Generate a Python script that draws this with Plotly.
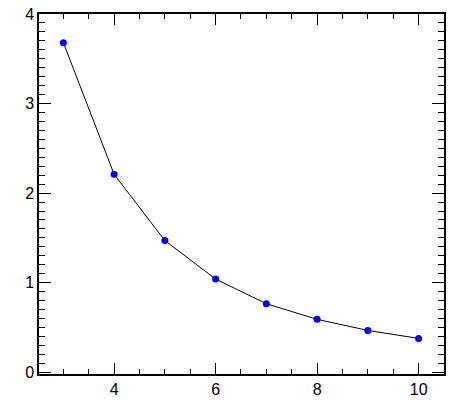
import plotly.graph_objects as go

x_vals = [3, 4, 5, 6, 7, 8, 9, 10]
y_vals = [3.68, 2.21, 1.47, 1.04, 0.765, 0.59, 0.467, 0.377]

x_ticks = [4, 6, 8, 10]
y_ticks = [0, 1, 2, 3, 4]

fig = go.Figure()
fig.add_trace(go.Scatter(
    x=x_vals, y=y_vals,
    mode='lines+markers',
    line=dict(color='black', width=1),
    marker=dict(color='#0000f0', size=7),
    showlegend=False,
))

axis_style = dict(
    showgrid=False, zeroline=False, automargin=False,
    showline=True, linecolor='black', linewidth=1.5,
    mirror='allticks', ticks='inside', tickcolor='black', tickwidth=1.2,
    tickfont=dict(family='Liberation Sans, Arial', size=16, color='black'),
    ticklabeloverflow='allow',
)

fig.update_xaxes(
    range=[2.52, 10.5], tickvals=x_ticks, ticklen=11,
    minor=dict(dtick=0.5, tick0=0, ticks='inside', ticklen=5, tickcolor='black', tickwidth=1.2, showgrid=False),
    **axis_style
)
fig.update_yaxes(
    range=[-0.02, 4.0], tickvals=y_ticks, ticklen=12,
    minor=dict(dtick=0.1, tick0=0, ticks='inside', ticklen=6, tickcolor='black', tickwidth=1.2, showgrid=False),
    **axis_style
)

fig.update_layout(
    width=463, height=405,
    margin=dict(l=39, r=19, t=14, b=31, autoexpand=False),
    plot_bgcolor='white', paper_bgcolor='white',
)

# drop the page's default body margin so the figure sits at 0,0
fig.write_html("out.html", config={'displayModeBar': False},
               post_script="document.body.style.margin='0';")
